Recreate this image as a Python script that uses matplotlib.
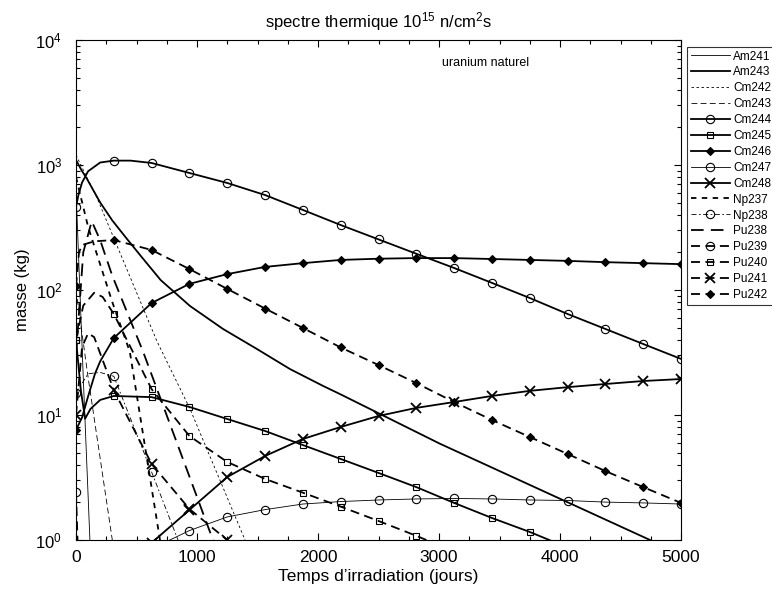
import numpy as np
import matplotlib
matplotlib.use("Agg")
import matplotlib.pyplot as plt
from matplotlib.legend_handler import HandlerLine2D
from matplotlib.ticker import MultipleLocator, LogLocator, NullFormatter

plt.rcParams['font.family'] = ['Liberation Sans', 'DejaVu Sans']
plt.rcParams['mathtext.fontset'] = 'custom'
plt.rcParams['mathtext.rm'] = 'Liberation Sans'
plt.rcParams['mathtext.it'] = 'Liberation Sans:italic'
plt.rcParams['mathtext.bf'] = 'Liberation Sans:bold'

STEP = 312.5  # marker spacing (days)

# ---- data (days, kg) ----
am241_t = [0, 60, 115, 140]
am241_m = [630, 20, 1.0, 0.3]

am243_t = [0, 45, 90, 200, 300, 420, 550, 700, 942, 1215, 1496, 1769, 2041, 2182, 3008, 4041, 4744, 5000]
am243_m = [1096, 910, 776, 501, 360, 257, 180, 120, 74.5, 48.8, 33.7, 23.3, 17.1, 14.7, 5.89, 2.05, 1.0, 0.78]

cm242_t = [0, 174, 669, 942, 1397, 1500]
cm242_m = [1200, 545, 38.9, 11.2, 1.0, 0.6]

cm243_t = [0, 100, 300, 350]
cm243_m = [100, 20, 1.0, 0.5]

cm244_t = [0, 20, 50, 100, 200, 312.5, 450, 625, 937.5, 1250, 1562.5, 1875, 2187.5, 2500,
           2812.5, 3125, 3437.5, 3750, 4062.5, 4375, 4687.5, 5000]
cm244_m = [461, 575, 724, 891, 1047, 1084, 1084, 1038, 863, 718, 575, 437, 331, 254,
           195, 150, 114, 86.3, 64.3, 48.8, 37.0, 28.1]

cm245_t = [0, 40, 75, 120, 200, 312.5, 625, 937.5, 1250, 1562.5, 1875, 2187.5, 2500,
           2812.5, 3125, 3437.5, 3750, 4062.5]
cm245_m = [39.8, 15.8, 9.33, 11.2, 13.2, 14.2, 13.9, 11.6, 9.29, 7.45, 5.75, 4.45, 3.44,
           2.65, 1.98, 1.50, 1.16, 0.87]

cm246_t = [0, 50, 100, 157, 200, 312.5, 625, 937.5, 1250, 1562.5, 1875, 2187.5, 2500,
           2812.5, 3125, 3437.5, 3750, 4062.5, 4375, 4687.5, 5000]
cm246_m = [7.59, 9.55, 14.1, 21.4, 26.9, 41.3, 78.7, 112, 134, 153, 164, 174, 178,
           180, 180, 177, 174, 171, 167, 164, 161]

cm247_t = [625, 937.5, 1250, 1562.5, 1875, 2187.5, 2500, 2812.5, 3125, 3437.5, 3750,
           4062.5, 4375, 4687.5, 5000]
cm247_m = [0.85, 1.19, 1.53, 1.75, 1.94, 2.03, 2.09, 2.13, 2.15, 2.13, 2.09, 2.07,
           2.01, 1.98, 1.94]

cm248_t = [625, 937.5, 1250, 1562.5, 1875, 2187.5, 2500, 2812.5, 3125, 3437.5, 3750,
           4062.5, 4375, 4687.5, 5000]
cm248_m = [0.95, 1.74, 3.19, 4.70, 6.43, 8.02, 9.82, 11.4, 12.7, 14.2, 15.6, 16.7,
           17.7, 18.7, 19.4]

np237_t = [0, 100, 300, 445, 694, 750]
np237_m = [800, 320, 80, 32, 1.0, 0.7]

np238_t = [0, 100, 200, 312.5, 625, 843, 900]
np238_m = [15.0, 21.4, 21.9, 20.4, 3.5, 1.0, 0.7]

pu238_t = [0, 60, 130, 200, 300, 555, 1132, 1200]
pu238_m = [30, 200, 355, 250, 130, 32, 1.0, 0.8]

pu239_t = [0, 30, 50]
pu239_m = [2.4, 0.3, 0.1]

pu240_t = [0, 60, 150, 220, 312.5, 625, 937.5, 1250, 1562.5, 1875, 2187.5, 2500, 2812.5, 3125]
pu240_m = [40, 75, 95, 88, 64.3, 16.1, 6.79, 4.21, 3.08, 2.39, 1.85, 1.42, 1.08, 0.81]

pu241_t = [0, 50, 100, 150, 312.5, 625, 937.5, 1250, 1300]
pu241_m = [10, 35, 45, 42, 15.8, 4.06, 1.77, 1.0, 0.9]

pu242_t = [0, 25, 50, 150, 312.5, 625, 937.5, 1250, 1562.5, 1875, 2187.5, 2500, 2812.5,
           3125, 3437.5, 3750, 4062.5, 4375, 4687.5, 5000]
pu242_m = [107, 200, 229, 245, 251, 209, 147, 102, 71.1, 49.7, 34.7, 25.1, 18.0, 12.7,
           9.12, 6.67, 4.88, 3.56, 2.65, 1.98]

THICK = 1.3
THIN = 0.6
SHORT = (0, (3, 3))
LONG = (0, (7, 4))
DASH = (0, (5, 3))

series = [
    ("Am241", am241_t, am241_m, dict(ls='-', lw=THIN)),
    ("Am243", am243_t, am243_m, dict(ls='-', lw=THICK)),
    ("Cm242", cm242_t, cm242_m, dict(ls=SHORT, lw=THIN)),
    ("Cm243", cm243_t, cm243_m, dict(ls=LONG, lw=THIN)),
    ("Cm244", cm244_t, cm244_m, dict(ls='-', lw=THICK, marker='o', ms=6, mfc='none')),
    ("Cm245", cm245_t, cm245_m, dict(ls='-', lw=THICK, marker='s', ms=5, mfc='none')),
    ("Cm246", cm246_t, cm246_m, dict(ls='-', lw=THICK, marker='D', ms=4.5, mfc='black')),
    ("Cm247", cm247_t, cm247_m, dict(ls='-', lw=THIN, marker='o', ms=6, mfc='none')),
    ("Cm248", cm248_t, cm248_m, dict(ls='-', lw=THICK, marker='x', ms=7, mew=1.3)),
    ("Np237", np237_t, np237_m, dict(ls=SHORT, lw=THICK)),
    ("Np238", np238_t, np238_m, dict(ls=(0, (6, 3, 2, 3)), lw=THIN, marker='o', ms=6, mfc='none')),
    ("Pu238", pu238_t, pu238_m, dict(ls=LONG, lw=THICK)),
    ("Pu239", pu239_t, pu239_m, dict(ls=DASH, lw=THICK, marker='o', ms=6, mfc='none')),
    ("Pu240", pu240_t, pu240_m, dict(ls=DASH, lw=THICK, marker='s', ms=5, mfc='none')),
    ("Pu241", pu241_t, pu241_m, dict(ls=DASH, lw=THICK, marker='x', ms=7, mew=1.3)),
    ("Pu242", pu242_t, pu242_m, dict(ls=DASH, lw=THICK, marker='D', ms=4.5, mfc='black')),
]

fig = plt.figure(figsize=(7.72, 5.92), dpi=100)
ax = fig.add_axes([76 / 772, 52 / 592, 605 / 772, 500 / 592])

handles = []
for name, t, m, st in series:
    idx = [i for i, tv in enumerate(t) if abs(tv / STEP - round(tv / STEP)) < 1e-9]
    kw = dict(color='black')
    kw.update(st)
    if 'marker' in kw:
        kw['markevery'] = idx
        kw.setdefault('mew', 0.8)
        kw['mec'] = 'black'
    ln, = ax.plot(t, m, label=name, **kw)
    handles.append(ln)

ax.set_yscale('log')
ax.set_xlim(0, 5000)
ax.set_ylim(1, 1e4)
ax.xaxis.set_major_locator(MultipleLocator(1000))
ax.xaxis.set_minor_locator(MultipleLocator(250))
ax.yaxis.set_major_locator(LogLocator(base=10, numticks=10))
ax.yaxis.set_minor_locator(LogLocator(base=10, subs=np.arange(2, 10), numticks=20))
ax.yaxis.set_minor_formatter(NullFormatter())
ax.tick_params(which='both', direction='in', top=True, right=True, labelsize=12.5)
ax.tick_params(axis='x', which='major', pad=7)
ax.tick_params(axis='y', which='major', pad=10, labelsize=12)
ax.tick_params(which='major', length=5, width=0.8)
ax.tick_params(which='minor', length=3, width=0.8)
for s in ax.spines.values():
    s.set_linewidth(0.8)

ax.set_xlabel("Temps d\u2019irradiation (jours)", fontsize=12.5, labelpad=3)
ax.set_ylabel("masse (kg)", fontsize=12, labelpad=4)
ax.set_title("spectre thermique $10^{15}$ n/cm$^2$s", fontsize=12, pad=9)
ax.text(0.605, 0.955, "uranium naturel", transform=ax.transAxes, fontsize=9,
        ha='left', va='center')


class RightMarker(HandlerLine2D):
    def get_xdata(self, legend, xdescent, ydescent, width, height, fontsize):
        xdata = np.array([-xdescent, -xdescent + width])
        return xdata, np.array([-xdescent + width - 3])


leg = fig.legend(handles=handles, loc='upper left',
                 bbox_to_anchor=(687 / 772, 1 - 47 / 592), fontsize=8.5,
                 handlelength=3.3, handletextpad=0.3, labelspacing=0.33,
                 borderpad=0.3, borderaxespad=0, frameon=True, fancybox=False,
                 handler_map={matplotlib.lines.Line2D: RightMarker(numpoints=1)})
leg.get_frame().set_edgecolor('black')
leg.get_frame().set_linewidth(0.8)

fig.savefig("out.png", dpi=100)
